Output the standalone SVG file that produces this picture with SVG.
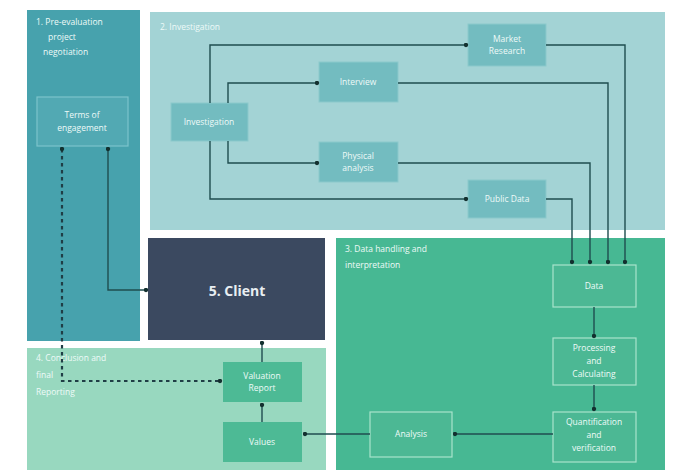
<svg xmlns="http://www.w3.org/2000/svg" width="673" height="473" viewBox="0 0 673 473">
<defs>
<style>
.t{font-family:"Open Sans","Liberation Sans",sans-serif;fill:#eefaf8;font-size:8.5px}
.c{text-anchor:middle}
.ln{fill:none;stroke:#1f4d4f;stroke-width:1.4}
.dash{fill:none;stroke:#1f3d45;stroke-width:2.2;stroke-dasharray:3.5 3.5}
.tb{fill:#73bcc0;stroke:#8cc9cc;stroke-width:1}
.gb{fill:#4cb894;stroke:#a9e3cc;stroke-width:1.2}
.mb{fill:#4dba95}
</style>
<marker id="dot" viewBox="0 0 6 6" refX="3" refY="3" markerWidth="5" markerHeight="5" markerUnits="userSpaceOnUse"><circle cx="3" cy="3" r="2.6" fill="#13302f"/></marker>
</defs>
<rect width="673" height="473" fill="#ffffff"/>
<g id="panel1">
<rect x="27" y="10" width="113" height="331" fill="#47a2ad"/>
<text class="t" x="36" y="25">1. Pre-evaluation</text>
<text class="t" x="48" y="40">project</text>
<text class="t" x="43" y="55">negotiation</text>
</g>
<g id="panel2">
<rect x="150" y="12" width="515" height="218" fill="#a3d3d5"/>
<text class="t" x="160" y="30">2. Investigation</text>
</g>
<g id="panel3">
<rect x="336" y="238" width="329" height="232" fill="#47b893"/>
<text class="t" x="345" y="252">3. Data handling and</text>
<text class="t" x="345" y="268">interpretation</text>
</g>
<g id="panel4">
<rect x="27" y="348" width="299" height="122" fill="#98d8bf"/>
<text class="t" x="36" y="361">4. Conclusion and</text>
<text class="t" x="36" y="378">final</text>
<text class="t" x="36" y="395">Reporting</text>
</g>
<g id="terms">
<rect x="37" y="97" width="91" height="49" fill="#52a9b3" stroke="#7cc4cb" stroke-width="1.2"/>
<text class="t c" x="82" y="118">Terms of</text>
<text class="t c" x="82" y="131">engagement</text>
</g>
<g id="investigation">
<rect class="tb" x="171" y="103" width="77" height="38"/>
<text class="t c" x="209" y="125">Investigation</text>
</g>
<g id="interview">
<rect class="tb" x="319" y="62" width="79" height="40"/>
<text class="t c" x="358" y="85">Interview</text>
</g>
<g id="market">
<rect class="tb" x="468" y="24" width="78" height="42"/>
<text class="t c" x="507" y="42">Market</text>
<text class="t c" x="507" y="54">Research</text>
</g>
<g id="physical">
<rect class="tb" x="319" y="142" width="79" height="40"/>
<text class="t c" x="358" y="159">Physical</text>
<text class="t c" x="358" y="171">analysis</text>
</g>
<g id="public">
<rect class="tb" x="468" y="180" width="78" height="38"/>
<text class="t c" x="507" y="202">Public Data</text>
</g>
<g id="client">
<rect x="148" y="238" width="177" height="102" fill="#3b4960"/>
<text x="237" y="296" text-anchor="middle" font-family="Open Sans, Liberation Sans, sans-serif" font-size="14" font-weight="bold" fill="#e8eef2">5. Client</text>
</g>
<g id="data">
<rect class="gb" x="553" y="265" width="83" height="42"/>
<text class="t c" x="594" y="289">Data</text>
</g>
<g id="processing">
<rect class="gb" x="553" y="338" width="83" height="47"/>
<text class="t c" x="594" y="351">Processing</text>
<text class="t c" x="594" y="364">and</text>
<text class="t c" x="594" y="377">Calculating</text>
</g>
<g id="quant">
<rect class="gb" x="553" y="412" width="83" height="50"/>
<text class="t c" x="594" y="425">Quantification</text>
<text class="t c" x="594" y="438">and</text>
<text class="t c" x="594" y="451">verification</text>
</g>
<g id="analysis">
<rect class="gb" x="370" y="412" width="82" height="45"/>
<text class="t c" x="411" y="437">Analysis</text>
</g>
<g id="valuation">
<rect class="mb" x="223" y="362" width="79" height="40"/>
<text class="t c" x="262" y="379">Valuation</text>
<text class="t c" x="262" y="391">Report</text>
</g>
<g id="values">
<rect class="mb" x="223" y="422" width="79" height="40"/>
<text class="t c" x="262" y="445">Values</text>
</g>
<g id="connectors">
<path class="ln" d="M210 103 V45 H466" marker-end="url(#dot)"/>
<path class="ln" d="M228 103 V83 H317" marker-end="url(#dot)"/>
<path class="ln" d="M228 141 V163 H317" marker-end="url(#dot)"/>
<path class="ln" d="M210 141 V199 H466" marker-end="url(#dot)"/>
<path class="ln" d="M546 45 H625 V262" marker-end="url(#dot)"/>
<path class="ln" d="M398 83 H608 V262" marker-end="url(#dot)"/>
<path class="ln" d="M398 163 H590 V262" marker-end="url(#dot)"/>
<path class="ln" d="M546 199 H572 V262" marker-end="url(#dot)"/>
<path class="ln" d="M594 307 V336" marker-end="url(#dot)"/>
<path class="ln" d="M594 385 V409" marker-end="url(#dot)"/>
<path class="ln" d="M553 434 H455" marker-end="url(#dot)"/>
<path class="ln" d="M370 434 H305" marker-end="url(#dot)"/>
<path class="ln" d="M262 422 V405" marker-end="url(#dot)"/>
<path class="ln" d="M262 362 V343" marker-end="url(#dot)"/>
<path class="ln" d="M108 149 V290 H146" marker-start="url(#dot)" marker-end="url(#dot)"/>
<path class="dash" d="M62 149 V381 H220" marker-start="url(#dot)" marker-end="url(#dot)"/>
</g>
</svg>
